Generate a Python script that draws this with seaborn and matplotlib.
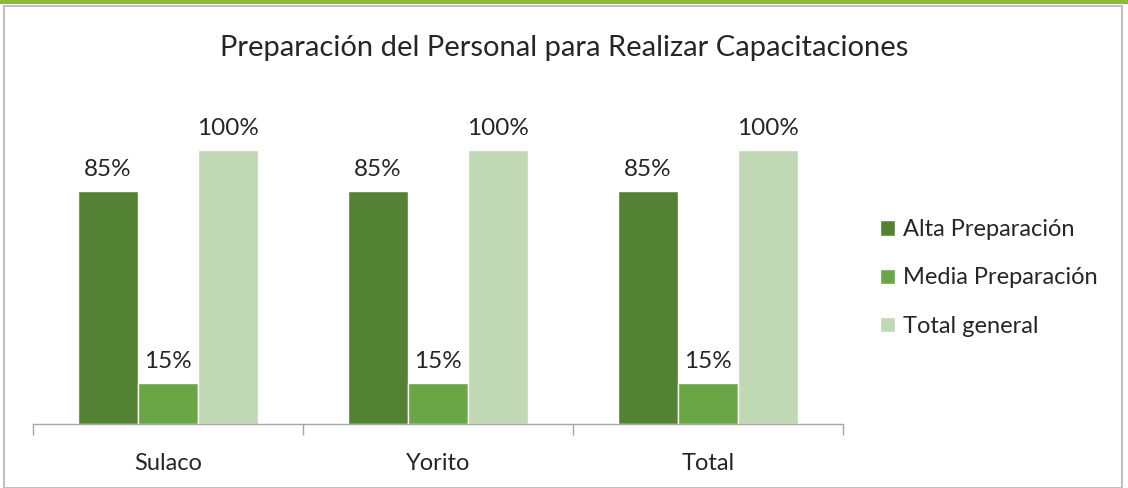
import matplotlib
matplotlib.use("Agg")
import matplotlib.pyplot as plt
import seaborn as sns
import pandas as pd
from matplotlib.patches import Rectangle

# data
categories = ["Sulaco", "Yorito", "Total"]
series = ["Alta Preparación", "Media Preparación", "Total general"]
alta = [0.85, 0.85, 0.85]
media = [0.15, 0.15, 0.15]
total = [1.00, 1.00, 1.00]

colors = ["#548235", "#6AA546", "#C0D8B4"]

rows = []
for i, cat in enumerate(categories):
    for name, vals in zip(series, [alta, media, total]):
        rows.append({"lugar": cat, "serie": name, "valor": vals[i]})
df = pd.DataFrame(rows)

sns.set_style("white")
plt.rcParams["font.family"] = ["Lato", "DejaVu Sans"]

W, H = 1128, 488
fig = plt.figure(figsize=(W / 100, H / 100), dpi=100)
ax = fig.add_axes([33 / W, (H - 424) / H, (843 - 33) / W, 324 / H])

sns.barplot(data=df, x="lugar", y="valor", hue="serie", palette=colors,
            width=2 / 3, saturation=1, ax=ax, legend=True)

ax.set_ylim(0, 324 / 274)
ax.set_xlim(-0.5, 2.5)
ax.set_yticks([])
ax.set_xlabel("")
ax.set_ylabel("")
for s in ["top", "right", "left"]:
    ax.spines[s].set_visible(False)
ax.spines["bottom"].set_color("#A6A6A6")
ax.spines["bottom"].set_linewidth(1)

# category boundary ticks like Excel
ax.set_xticks([-0.5, 0.5, 1.5, 2.5], minor=True)
ax.tick_params(axis="x", which="minor", bottom=True, length=8,
               color="#A6A6A6", width=1, direction="out")
ax.tick_params(axis="x", which="major", length=0, pad=21, labelsize=17)

for cont in ax.containers:
    ax.bar_label(cont, labels=[f"{v:.0%}" for v in cont.datavalues],
                 padding=8, fontsize=17.5)

leg = ax.legend(loc="center left", bbox_to_anchor=(880 / W, (H - 278) / H),
                bbox_transform=fig.transFigure, frameon=False, fontsize=17,
                handlelength=0.62, handleheight=0.62, handletextpad=0.35,
                labelspacing=1.15, borderaxespad=0, borderpad=0)

fig.text(0.5, (H - 48) / H, "Preparación del Personal para Realizar Capacitaciones",
         ha="center", va="center", fontsize=21)

# slide frame
fig.patches.append(Rectangle((4 / W, 0), (W - 10) / W, (H - 6) / H,
                             transform=fig.transFigure, fill=False,
                             edgecolor="#BFBFBF", linewidth=1.5))
fig.patches.append(Rectangle((0, (H - 4) / H), 1, 4 / H,
                             transform=fig.transFigure, color="#8DB83A", lw=0))

fig.savefig("out.png", dpi=100)
